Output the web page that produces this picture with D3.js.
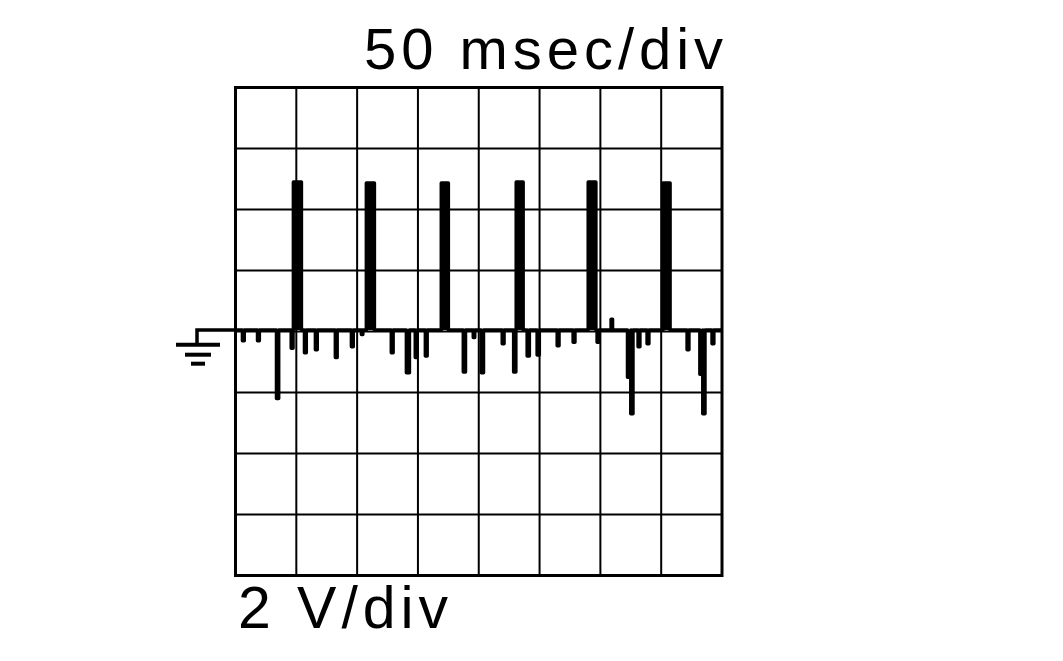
<!DOCTYPE html>
<html>
<head>
<meta charset="utf-8">
<script src="https://cdn.jsdelivr.net/npm/d3@7"></script>
<style>
  html, body { margin: 0; padding: 0; background: #fff; }
  svg { display: block; }
</style>
</head>
<body>
<svg id="chart" width="1063" height="661"></svg>
<script>
// ---- data (time in ms, voltage in V) ----
const timeTicks = [0, 50, 100, 150, 200, 250, 300, 350, 400];
const voltTicks = [-8, -6, -4, -2, 0, 2, 4, 6, 8];
const baselineV = 0.05;

// positive pulses
const pulseStart = [47.6, 107.6, 169.2, 230.8, 290.0, 351.5];
const pulseEnd   = [54.2, 114.2, 175.0, 236.5, 296.3, 357.3];
const pulseTop   = [4.9, 4.87, 4.87, 4.9, 4.9, 4.87];

// negative spikes (and one small positive bump)
const spikeTime  = [5.7, 18.1, 33.7, 45.8, 56.7, 65.7, 82.1, 95.3, 103.5, 128.1, 140.5, 147.8, 156.1,
                    187.3, 195.5, 202.1, 219.3, 228.7, 239.8, 248.0, 264.5, 277.6, 297.3, 308.8,
                    322.3, 325.0, 331.0, 338.4, 371.3, 381.8, 384.2, 391.8];
const spikeDepth = [-0.3, -0.3, -2.2, -0.55, -0.7, -0.6, -0.85, -0.5, -0.1, -0.7, -1.35, -0.85, -0.8,
                    -1.33, -0.2, -1.35, -0.4, -1.33, -0.8, -0.77, -0.47, -0.35, -0.35, 0.4,
                    -1.5, -2.7, -0.5, -0.4, -0.6, -1.4, -2.7, -0.4];
const spikeWidth = [1.5, 1.5, 1.8, 1.5, 1.5, 1.5, 1.5, 1.5, 1.2, 1.5, 2.5, 1.5, 1.5,
                    1.8, 1.2, 1.8, 1.5, 1.8, 1.8, 1.8, 1.5, 1.5, 1.5, 1.2,
                    3.0, 1.8, 1.5, 1.5, 1.5, 2.5, 1.8, 1.5];

const topLabel = "50 msec/div";
const bottomLabel = "2 V/div";

// ---- layout ----
const svg = d3.select("#chart");
const x = d3.scaleLinear().domain([0, 400]).range([235.5, 722]);
const y = d3.scaleLinear().domain([-8, 8]).range([575.5, 87.5]);

// grid
const g = svg.append("g");
g.selectAll(".vg").data(timeTicks.slice(1, -1)).enter().append("line")
  .attr("x1", d => x(d)).attr("x2", d => x(d))
  .attr("y1", y(8)).attr("y2", y(-8))
  .attr("stroke", "#000").attr("stroke-width", 2);
g.selectAll(".hg").data(voltTicks.slice(1, -1)).enter().append("line")
  .attr("y1", d => y(d)).attr("y2", d => y(d))
  .attr("x1", x(0)).attr("x2", x(400))
  .attr("stroke", "#000").attr("stroke-width", 2);
g.append("rect")
  .attr("x", x(0)).attr("y", y(8))
  .attr("width", x(400) - x(0)).attr("height", y(-8) - y(8))
  .attr("fill", "none").attr("stroke", "#000").attr("stroke-width", 3);

// trace points built from events
const events = [];
pulseStart.forEach((s, i) => events.push({ t: s, w: pulseEnd[i] - s, v: pulseTop[i] }));
spikeTime.forEach((s, i) => events.push({ t: s, w: spikeWidth[i], v: spikeDepth[i] }));
events.sort((a, b) => a.t - b.t);
const pts = [[0, baselineV]];
events.forEach(e => {
  pts.push([e.t, baselineV], [e.t, e.v], [e.t + e.w, e.v], [e.t + e.w, baselineV]);
});
pts.push([400, baselineV]);

const line = d3.line().x(d => x(d[0])).y(d => y(d[1]));

// filled pulses / spikes
svg.append("g").selectAll("rect").data(events).enter().append("rect")
  .attr("x", d => x(d.t))
  .attr("width", d => x(d.t + d.w) - x(d.t))
  .attr("y", d => Math.min(y(d.v), y(baselineV)))
  .attr("height", d => Math.abs(y(d.v) - y(baselineV)))
  .attr("fill", "#000");

svg.append("path")
  .attr("d", line(pts))
  .attr("fill", "none").attr("stroke", "#000")
  .attr("stroke-width", 3.5).attr("stroke-linejoin", "round");

// ground symbol
const gy = y(baselineV);
const gnd = svg.append("g").attr("stroke", "#000").attr("fill", "none");
gnd.append("path").attr("d", `M${x(0)},${gy} H197 V343`).attr("stroke-width", 3.5);
gnd.append("line").attr("x1", 176).attr("x2", 220).attr("y1", 344.7).attr("y2", 344.7).attr("stroke-width", 4);
gnd.append("line").attr("x1", 185).attr("x2", 211).attr("y1", 354.7).attr("y2", 354.7).attr("stroke-width", 4);
gnd.append("line").attr("x1", 191).attr("x2", 205).attr("y1", 363.7).attr("y2", 363.7).attr("stroke-width", 4);

// labels
svg.append("text").text(topLabel)
  .attr("x", 364).attr("y", 69)
  .attr("font-family", "Liberation Sans, Arial, sans-serif")
  .attr("font-size", 58)
  .attr("textLength", 359).attr("lengthAdjust", "spacing")
  .attr("fill", "#000");
svg.append("text").text(bottomLabel)
  .attr("x", 238).attr("y", 628)
  .attr("font-family", "Liberation Sans, Arial, sans-serif")
  .attr("font-size", 59)
  .attr("textLength", 210).attr("lengthAdjust", "spacing")
  .attr("fill", "#000");
</script>
</body>
</html>
